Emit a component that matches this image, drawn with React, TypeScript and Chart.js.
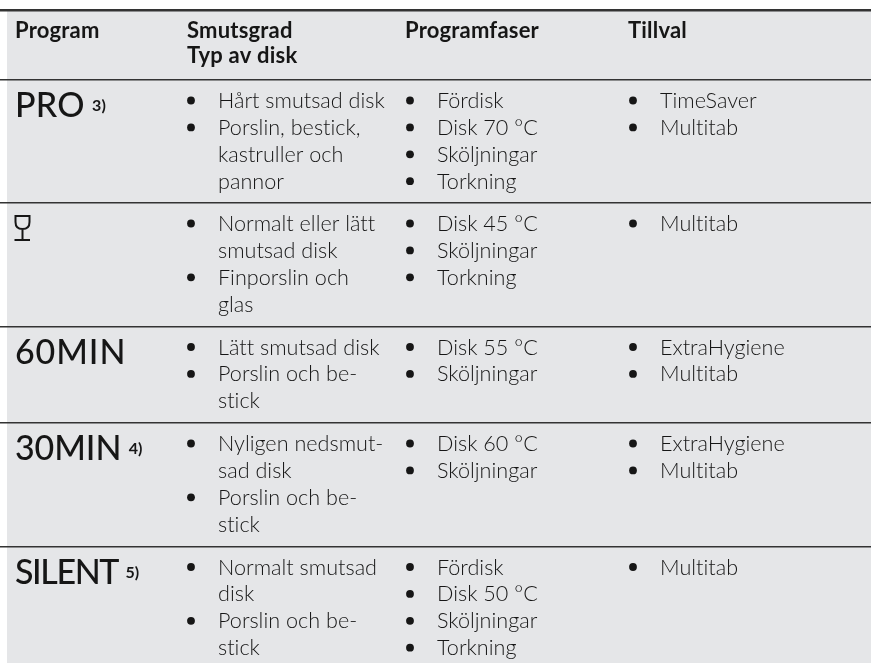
import React, { useEffect, useRef } from "react";
import { Chart, registerables } from "chart.js";

Chart.register(...registerables);

const headers = [["Program"], ["Smutsgrad", "Typ av disk"], ["Programfaser"], ["Tillval"]];
const programs = ["PRO", "", "60MIN", "30MIN", "SILENT"];
const notes = ["3)", "", "", "4)", "5)"];
const soil = [
  [["Hårt smutsad disk"], ["Porslin, bestick,", "kastruller och", "pannor"]],
  [["Normalt eller lätt", "smutsad disk"], ["Finporslin och", "glas"]],
  [["Lätt smutsad disk"], ["Porslin och be-", "stick"]],
  [["Nyligen nedsmut-", "sad disk"], ["Porslin och be-", "stick"]],
  [["Normalt smutsad", "disk"], ["Porslin och be-", "stick"]],
];
const phases = [
  [["Fördisk"], ["Disk 70 °C"], ["Sköljningar"], ["Torkning"]],
  [["Disk 45 °C"], ["Sköljningar"], ["Torkning"]],
  [["Disk 55 °C"], ["Sköljningar"]],
  [["Disk 60 °C"], ["Sköljningar"]],
  [["Fördisk"], ["Disk 50 °C"], ["Sköljningar"], ["Torkning"]],
];
const options_ = [
  [["TimeSaver"], ["Multitab"]],
  [["Multitab"]],
  [["ExtraHygiene"], ["Multitab"]],
  [["ExtraHygiene"], ["Multitab"]],
  [["Multitab"]],
];

const rowEdges = [10, 80, 203, 326.5, 423, 546.5];
const tableBottom = 663;
const LEFT = 7;
const headX = [15, 187, 405, 628];
const bulletX = [191, 410, 633];
const textX = [218, 437, 660];
const PITCH = 26.9;
const FIRST = 28;
const BODY = "300 21.6px Lato";
const HEAD = "700 22px Lato";
const BIG = "500 34px Lato";
const NOTE = "700 16px Lato";
const INK = "#161616";
const bigTracking = ["0.2px", "0px", "0.9px", "-0.1px", "-1.4px"];

function cellLines(col: number) {
  const table = [soil, phases, options_][col];
  const lines: { x: number; y: number; t: string }[] = [];
  const bullets: { x: number; y: number }[] = [];
  table.forEach((items, r) => {
    let i = 0;
    items.forEach((item) => {
      bullets.push({ x: bulletX[col], y: rowEdges[r + 1] + FIRST + i * PITCH - 7.5 });
      item.forEach((t) => {
        lines.push({ x: textX[col], y: rowEdges[r + 1] + FIRST + i * PITCH, t });
        i++;
      });
    });
  });
  return { lines, bullets };
}

const tablePlugin = {
  id: "tableCells",
  beforeDraw(chart: any) {
    const { ctx, scales } = chart;
    const x = scales.x, y = scales.y;
    ctx.save();
    ctx.fillStyle = "#e5e6e8";
    ctx.fillRect(x.getPixelForValue(LEFT), y.getPixelForValue(rowEdges[0]), x.getPixelForValue(871) - x.getPixelForValue(LEFT), y.getPixelForValue(tableBottom) - y.getPixelForValue(rowEdges[0]));
    ctx.restore();
  },
  afterDatasetsDraw(chart: any) {
    const { ctx, scales } = chart;
    const X = (v: number) => scales.x.getPixelForValue(v);
    const Y = (v: number) => scales.y.getPixelForValue(v);
    ctx.save();
    ctx.textBaseline = "alphabetic";
    ctx.textAlign = "left";
    ctx.fillStyle = INK;
    ctx.font = HEAD;
    ctx.letterSpacing = "0.2px";
    headers.forEach((h, c) => h.forEach((t, i) => ctx.fillText(t, X(headX[c]), Y(38 + i * 25))));
    ctx.font = BODY;
    ctx.letterSpacing = "0.01px";
    [0, 1, 2].forEach((c) => cellLines(c).lines.forEach((l) => ctx.fillText(l.t, X(l.x), Y(l.y))));
    programs.forEach((p, r) => {
      if (!p) return;
      ctx.font = BIG;
      ctx.letterSpacing = bigTracking[r];
      const base = rowEdges[r + 1] + 37;
      ctx.fillText(p, X(15), Y(base));
      const w = ctx.measureText(p).width;
      if (notes[r]) {
        ctx.font = NOTE;
        ctx.letterSpacing = "0px";
        ctx.fillText(notes[r], X(15 + w + 7.5), Y(base - 6));
      }
    });
    // glass symbol
    ctx.strokeStyle = "#161616";
    ctx.lineWidth = 2;
    ctx.beginPath();
    ctx.moveTo(X(15.5), Y(216));
    ctx.lineTo(X(29.5), Y(216));
    ctx.lineTo(X(29.5), Y(222));
    ctx.quadraticCurveTo(X(29.5), Y(229), X(22.5), Y(229));
    ctx.quadraticCurveTo(X(15.5), Y(229), X(15.5), Y(222));
    ctx.closePath();
    ctx.moveTo(X(22.5), Y(229));
    ctx.lineTo(X(22.5), Y(240));
    ctx.moveTo(X(14.5), Y(240));
    ctx.lineTo(X(30), Y(240));
    ctx.stroke();
    ctx.restore();
  },
};

export default function App() {
  const ref = useRef<HTMLCanvasElement>(null);
  useEffect(() => {
    document.body.style.margin = "0";
    const bullets = [0, 1, 2].flatMap((c) => cellLines(c).bullets);
    const chart = new Chart(ref.current!, {
      type: "scatter",
      data: {
        datasets: [
          {
            data: bullets,
            pointRadius: 3.9,
            pointBackgroundColor: "#161616",
            pointBorderWidth: 0,
          },
        ],
      },
      options: {
        animation: false,
        responsive: false,
        layout: { padding: 0, autoPadding: false },
        plugins: { legend: { display: false }, tooltip: { enabled: false } },
        scales: {
          x: { type: "linear", display: false, min: 0, max: 871 },
          y: {
            type: "linear",
            reverse: true,
            min: 0,
            max: 665,
            ticks: { display: false },
            border: { display: false },
            afterBuildTicks(axis: any) {
              axis.ticks = rowEdges.map((value) => ({ value }));
            },
            afterFit(axis: any) { axis.width = 0; },
            grid: {
              drawTicks: false,
              color: "#333333",
              lineWidth: (c: any) => (c.index === 0 ? 2.6 : 1.5),
            },
          },
        },
      },
      plugins: [tablePlugin],
    } as any);
    return () => chart.destroy();
  }, []);
  return <canvas ref={ref} width={871} height={665} style={{ display: "block" }} />;
}
